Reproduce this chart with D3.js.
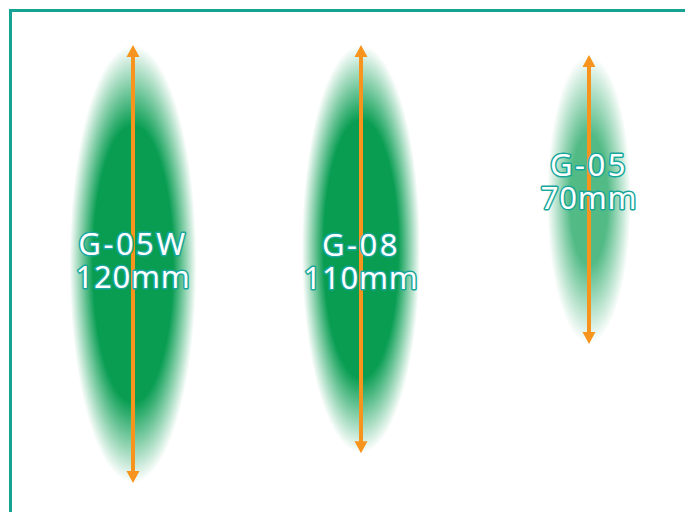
<!DOCTYPE html>
<html>
<head>
<meta charset="utf-8">
<script src="https://cdn.jsdelivr.net/npm/d3@7"></script>
<style>
  html, body { margin: 0; padding: 0; background: #fff; }
  svg { display: block; }
</style>
</head>
<body>
<svg id="chart" width="685" height="512"></svg>
<script>
// Data
const models = ["G-05W", "G-08", "G-05"];
const lengths = [120, 110, 70]; // mm
const lengthLabels = ["120mm", "110mm", "70mm"];

// Colours
const colors = {
  frame: "#17a393",
  green: "#009a4c",
  arrow: "#f7941d",
  textStroke: "#17a69a",
  textFill: "#ffffff"
};

// layout tweaks per shape (top of arrow, first label baseline, gradient strength)
const layout = [
  { top: 45, labelY: 255, strength: 0.97 },
  { top: 45, labelY: 256, strength: 0.97 },
  { top: 55, labelY: 176, strength: 0.68 }
];

const width = 685;
const height = 512;

const svg = d3.select("#chart");
const defs = svg.append("defs");

// x position of each shape
const x = d3.scalePoint()
  .domain(models)
  .range([133, 589]);

// mm -> pixel length
const len = d3.scaleLinear()
  .domain([70, 120])
  .range([289, 438]);

// frame, runs off the right and bottom edges
svg.append("rect")
  .attr("x", 10.5)
  .attr("y", 10.5)
  .attr("width", width + 20)
  .attr("height", height + 20)
  .attr("fill", "none")
  .attr("stroke", colors.frame)
  .attr("stroke-width", 3);

// one gradient per shape
models.forEach((m, i) => {
  const g = defs.append("radialGradient")
    .attr("id", "grad" + i)
    .attr("cx", "50%").attr("cy", "50%").attr("r", "50%");
  const s = layout[i].strength;
  g.append("stop").attr("offset", "0").attr("stop-color", colors.green).attr("stop-opacity", s);
  g.append("stop").attr("offset", i === 2 ? "0.45" : "0.63").attr("stop-color", colors.green).attr("stop-opacity", s);
  g.append("stop").attr("offset", "1").attr("stop-color", colors.green).attr("stop-opacity", 0);
});

const items = models.map((m, i) => ({
  name: m,
  mm: lengths[i],
  label: lengthLabels[i],
  i: i
}));

const groups = svg.selectAll("g.item")
  .data(items)
  .enter().append("g")
  .attr("class", "item");

// glow ellipses
groups.append("ellipse")
  .attr("cx", d => x(d.name))
  .attr("cy", d => layout[d.i].top + len(d.mm) / 2)
  .attr("rx", d => len(d.mm) * 0.145)
  .attr("ry", d => len(d.mm) / 2)
  .attr("fill", d => "url(#grad" + d.i + ")");

// double headed arrows
const headW = 6.5;
const headH = 12;

groups.append("line")
  .attr("x1", d => x(d.name))
  .attr("x2", d => x(d.name))
  .attr("y1", d => layout[d.i].top + headH - 1)
  .attr("y2", d => layout[d.i].top + len(d.mm) - headH + 1)
  .attr("stroke", colors.arrow)
  .attr("stroke-width", 4);

groups.append("path")
  .attr("fill", colors.arrow)
  .attr("d", d => {
    const cx = x(d.name);
    const t = layout[d.i].top;
    const b = t + len(d.mm);
    return `M${cx},${t} L${cx + headW},${t + headH} L${cx - headW},${t + headH} Z` +
      `M${cx},${b} L${cx + headW},${b - headH} L${cx - headW},${b - headH} Z`;
  });

// labels, two text lines each
function addLabel(sel, getText, dy, spacing) {
  sel.append("text")
    .attr("x", d => x(d.name))
    .attr("y", d => layout[d.i].labelY + dy)
    .attr("text-anchor", "middle")
    .attr("font-family", "'Noto Sans', sans-serif")
    .attr("font-size", 31)
    .attr("letter-spacing", spacing)
    .attr("fill", colors.textFill)
    .attr("stroke", colors.textStroke)
    .attr("stroke-width", 3)
    .attr("stroke-linejoin", "round")
    .attr("paint-order", "stroke")
    .text(getText);
}

addLabel(groups, d => d.name, 0, 2.5);
addLabel(groups, d => d.label, 33, 0.8);
</script>
</body>
</html>
